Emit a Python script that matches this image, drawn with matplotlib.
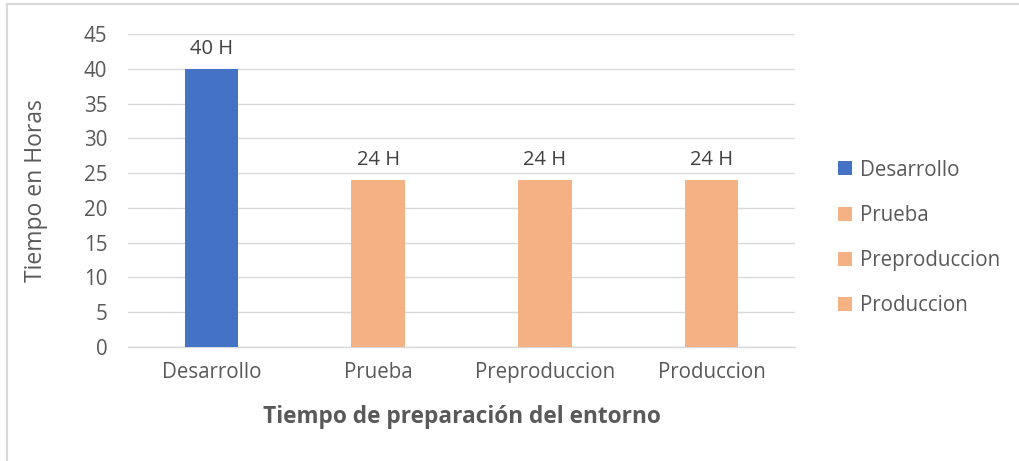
import matplotlib
matplotlib.use("Agg")
import matplotlib.pyplot as plt
from matplotlib.lines import Line2D
from matplotlib.patches import Patch

categories = ["Desarrollo", "Prueba", "Preproduccion", "Produccion"]
values = [40, 24, 24, 24]
labels = ["40 H", "24 H", "24 H", "24 H"]
colors = ["#4472C4", "#F4B183", "#F4B183", "#F4B183"]
yticks = [0, 5, 10, 15, 20, 25, 30, 35, 40, 45]

plt.rcParams['font.family'] = ['Open Sans', 'DejaVu Sans']
txt = "#595959"

fig = plt.figure(figsize=(10.2, 4.61), dpi=100)
ax = fig.add_axes([128/1020, 1-347/461, (795-128)/1020, (347-34)/461])

x = range(len(categories))
bars = ax.bar(x, values, width=0.32, color=colors, zorder=3)
for xi, v, lab in zip(x, values, labels):
    ax.annotate(lab, (xi, v), xytext=(0, 7), textcoords="offset points",
                ha="center", va="bottom", fontsize=14.5, color="#404040")

ax.set_xlim(-0.5, len(categories) - 0.5)
ax.set_ylim(0, 45)
ax.set_yticks(yticks)
ax.set_yticklabels([str(t) for t in yticks])
ax.set_xticks(list(x))
ax.set_xticklabels(categories)
ax.tick_params(axis="both", length=0, labelsize=14.8, labelcolor=txt)
ax.tick_params(axis="y", pad=15)
ax.tick_params(axis="x", pad=11)
ax.grid(axis="y", color="#D9D9D9", linewidth=1, zorder=0)
for s in ["top", "right", "left"]:
    ax.spines[s].set_visible(False)
ax.spines["bottom"].set_color("#D9D9D9")
ax.spines["bottom"].set_linewidth(1)

ax.set_ylabel("Tiempo en Horas", fontsize=16.5, color=txt)
ax.yaxis.set_label_coords((36-128)/667, 0.5)
ax.set_xlabel("Tiempo de preparación del entorno", fontsize=16.3, color=txt,
              fontweight="bold")
ax.xaxis.set_label_coords(0.5, (347-417)/313)
ax.xaxis.label.set_va("center")
ax.yaxis.label.set_va("center")

handles = [Patch(facecolor=c, edgecolor="none") for c in colors]
fig.legend(handles, categories, loc="center left", bbox_to_anchor=(820/1020, 1-238/461),
           frameon=False, fontsize=14.8, labelcolor=txt, handlelength=0.68,
           handleheight=0.68, handletextpad=0.35, labelspacing=1.18)

fig.add_artist(Line2D([7/1020, 7/1020], [0, 1-4/461], color="#D9D9D9", linewidth=1.5))
fig.add_artist(Line2D([7/1020, 1], [1-4.5/461, 1-4.5/461], color="#D9D9D9", linewidth=1.5))

fig.savefig("out.png", dpi=100, facecolor="white")
